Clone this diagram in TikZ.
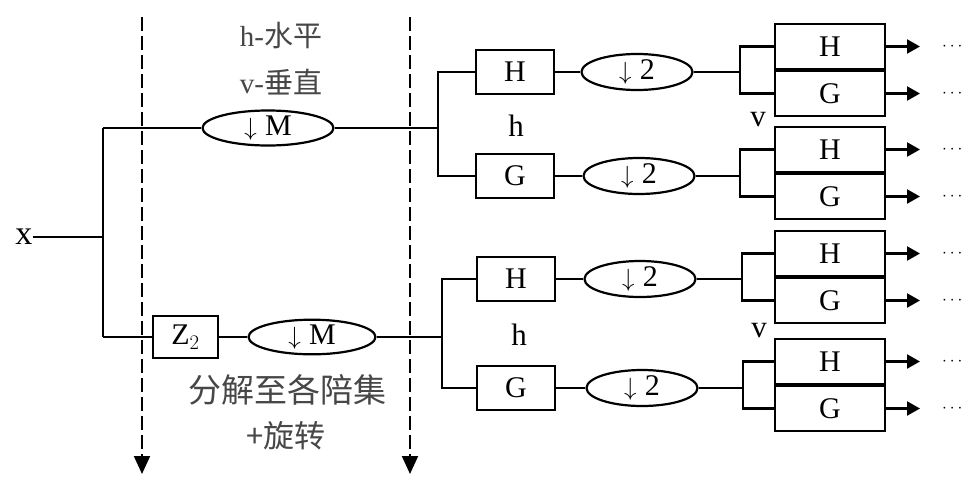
\documentclass[tikz,border=0pt]{standalone}
\usepackage{fontspec}
\setmainfont{Liberation Serif}
\newfontfamily\cjk{Noto Sans CJK SC}
\usetikzlibrary{shapes.geometric,arrows.meta}
\begin{document}
\begin{tikzpicture}[x=1pt,y=-1pt,
  wire/.style={line width=2.2pt},
  blk/.style={draw,line width=2.4pt,minimum width=78pt,minimum height=44pt,inner sep=0pt,font=\fontsize{30}{30}\selectfont},
  blkw/.style={draw,line width=2.4pt,minimum width=110pt,minimum height=45pt,inner sep=0pt,font=\fontsize{30}{30}\selectfont},
  ell/.style={draw,ellipse,line width=2.2pt,inner sep=0pt,font=\fontsize{30}{30}\selectfont},
  lbl/.style={font=\fontsize{31}{32}\selectfont,inner sep=0pt},
  cjklbl/.style={font=\fontsize{29}{30}\selectfont,text=black!72,inner sep=0pt},
  guide/.style={line width=2pt,dash pattern=on 14pt off 5pt,-{Triangle[length=18pt,width=16pt]}},
  outarr/.style={line width=2.2pt,-{Triangle[length=13pt,width=14pt]}},
  dotsl/.style={font=\fontsize{18}{18}\selectfont,anchor=west,inner sep=0pt}
]
\useasboundingbox (0,0) rectangle (968,482);
\fill[white] (0,0) rectangle (968,482);

% guide lines
\coordinate (d1t) at (142,17);
\coordinate (d1b) at (142,474);
\coordinate (d2t) at (410,17);
\coordinate (d2b) at (410,474);
\draw[guide] (d1t) -- (d1b);
\draw[guide] (d2t) -- (d2b);

% labels
\node[cjklbl] (lh) at (281,36) {h-{\cjk 水平}};
\node[cjklbl] (lv) at (281,82) {v-{\cjk 垂直}};
\node[cjklbl,font=\cjk\fontsize{33}{34}\selectfont] (l1) at (287,390) {分解至各陪集};
\node[cjklbl,font=\cjk\fontsize{31}{32}\selectfont] (l2) at (286,436) {+旋转};

% input
\node[lbl,font=\fontsize{34}{34}\selectfont] (x) at (24,237) {x};
\coordinate (s) at (103,237);
\coordinate (st) at (103,128);
\coordinate (sb) at (103,337);
\node[ell,minimum width=131pt,minimum height=35pt] (m1) at (268,128) {$\downarrow$\;M};
\node[blk,minimum width=65pt,minimum height=42pt] (z2) at (185.5,337) {Z$_2$};
\node[ell,minimum width=127pt,minimum height=34pt] (m2) at (312,337) {$\downarrow$\;M};
\coordinate (ja) at (438,128);
\coordinate (jb) at (442,337);

\draw[wire] (x.east) -- (s);
\draw[wire] (st) -- (sb);
\draw[wire] (st) -- (m1);
\draw[wire] (m1) -- (ja);
\draw[wire] (sb) -- (z2);
\draw[wire] (z2) -- (m2);
\draw[wire] (m2) -- (jb);

% level 1
\node[blk] (h1) at (515,72) {H};
\node[blk] (g1) at (515,176) {G};
\node[blk] (h2) at (516,279) {H};
\node[blk] (g2) at (516,388) {G};
\node[lbl] (hl1) at (516,126) {h};
\node[lbl] (hl2) at (519,335) {h};

\draw[wire] (h1.west) -- (h1.west -| ja) -- (g1.west -| ja) -- (g1.west);
\draw[wire] (h2.west) -- (h2.west -| jb) -- (g2.west -| jb) -- (g2.west);

\node[ell,minimum width=111pt,minimum height=36pt] (e1) at (637,72) {$\downarrow$\;2};
\node[ell,minimum width=111pt,minimum height=36pt] (e2) at (639,176) {$\downarrow$\;2};
\node[ell,minimum width=111pt,minimum height=36pt] (e3) at (640,279) {$\downarrow$\;2};
\node[ell,minimum width=111pt,minimum height=36pt] (e4) at (642,388) {$\downarrow$\;2};
\draw[wire] (h1) -- (e1);
\draw[wire] (g1) -- (e2);
\draw[wire] (h2) -- (e3);
\draw[wire] (g2) -- (e4);

\coordinate (k1) at (740,72);
\coordinate (k2) at (740,176);
\coordinate (k3) at (742,279);
\coordinate (k4) at (743,388);
\draw[wire] (e1) -- (k1);
\draw[wire] (e2) -- (k2);
\draw[wire] (e3) -- (k3);
\draw[wire] (e4) -- (k4);

\node[lbl] (vl1) at (758,120) {v};
\node[lbl] (vl2) at (759,331) {v};

% level 2
\foreach \n/\c/\k in {1/70/k1,2/173/k2,3/277/k3,4/385/k4}{
  \node[blkw] (hh\n) at (830,\c-23.5) {H};
  \node[blkw] (gg\n) at (830,\c+23.5) {G};
  \draw[wire] (hh\n.west) -- (hh\n.west -| \k) -- (gg\n.west -| \k) -- (gg\n.west);
  \coordinate (ah\n) at (920,\c-23.5);
  \coordinate (ag\n) at (920,\c+23.5);
  \draw[outarr] (hh\n.east) -- (ah\n);
  \draw[outarr] (gg\n.east) -- (ag\n);
  \node[dotsl] (dh\n) at (942,\c-23.5) {$\cdots$};
  \node[dotsl] (dg\n) at (942,\c+23.5) {$\cdots$};
}
\end{tikzpicture}
\end{document}
